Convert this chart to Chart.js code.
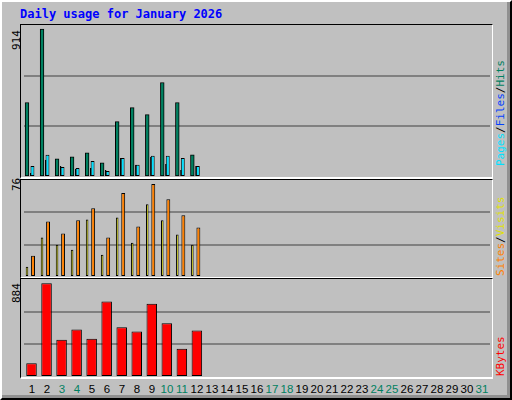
<!DOCTYPE html>
<html><head><meta charset="utf-8">
<script src="https://cdn.jsdelivr.net/npm/chart.js@4"></script>
<style>
html,body{margin:0;padding:0;}
body{width:512px;height:400px;position:relative;background:#c0c0c0;overflow:hidden;font-family:"DejaVu Sans Mono",monospace;}
#frame{position:absolute;left:0;top:0;width:508px;height:396px;border-left:2px solid #fff;border-top:2px solid #fff;border-right:2px solid #000;border-bottom:2px solid #000;box-shadow:inset -3px -3px 0 #909090;}
.panel{position:absolute;left:20px;width:471px;border-left:1px solid #000;border-top:1px solid #000;border-right:1px solid #fff;border-bottom:2px solid #fff;}
.panel canvas{position:absolute;left:3px;top:0;}
#title{position:absolute;left:20px;top:7px;color:#0000ff;font-weight:bold;font-size:12px;}
.max{position:absolute;font-size:11px;color:#000;transform-origin:left top;transform:rotate(-90deg);font-family:"DejaVu Sans Mono",monospace;}
.leg{position:absolute;font-size:11px;white-space:nowrap;transform-origin:left top;transform:rotate(-90deg);font-family:"DejaVu Sans Mono",monospace;}
.day{position:absolute;top:383px;width:16px;text-align:center;font-family:"Liberation Sans",sans-serif;font-size:11.5px;}
</style></head><body>
<div id="frame"></div>
<div id="title">Daily usage for January 2026</div>
<div class="panel" style="top:24px;height:152px"><canvas id="c1" width="466" height="152"></canvas></div>
<div class="panel" style="top:179px;height:97px"><canvas id="c2" width="466" height="97"></canvas></div>
<div class="panel" style="top:278px;height:98px"><canvas id="c3" width="466" height="98"></canvas></div>
<div class="max" style="left:10px;top:50px">914</div>
<div class="max" style="left:10px;top:191px">76</div>
<div class="max" style="left:10px;top:303px">884</div>
<div class="leg" style="left:494px;top:166px"><span style="color:#00e0ff">Pages</span><span style="color:#000">/</span><span style="color:#0040ff">Files</span><span style="color:#000">/</span><span style="color:#008060">Hits</span></div>
<div class="leg" style="left:494px;top:276px"><span style="color:#ff8000">Sites</span><span style="color:#000">/</span><span style="color:#e0e000">Visits</span></div>
<div class="leg" style="left:494px;top:376px"><span style="color:#ff0000">KBytes</span></div>
<div id="days"></div>
<script>
const days = Array.from({length:31},(_,i)=>String(i+1));
const weekend = ["3","4","10","11","17","18","24","25","31"];
const hits   = [460,914,112,124,149,87,342,429,385,584,460,137];
const files  = [68,137,62,56,99,37,118,75,131,131,118,68];
const pages  = [25,106,68,50,56,44,118,75,124,81,44,68];
const visits = [17.3,45.4,35.5,46.3,56.2,32.2,68.6,41.3,76,63.6,50.4,40.5];
const sites  = [8.3,32.2,26.4,22.3,47.1,18.2,48.7,28.1,59.5,46.3,34.7,26.4];
const kbytes = [129,884,352,448,361,710,468,429,690,507,265,439];
const empty = [];

const dd=document.getElementById('days');
days.forEach((d,i)=>{const s=document.createElement('div');s.className='day';s.textContent=d;
 s.style.left=(24+15*i)+'px';s.style.color=weekend.includes(d)?'#008060':'#000';dd.appendChild(s);});

function make(id,max,datasets){
 new Chart(document.getElementById(id),{type:'bar',data:{labels:days,datasets},
  options:{responsive:false,animation:false,layout:{padding:0},
   plugins:{legend:{display:false},tooltip:{enabled:false}},
   scales:{x:{display:false,offset:true},xa:{display:false,offset:true},xb:{display:false,offset:true},
    y:{min:0,max:max,afterBuildTicks:s=>{s.ticks=[0,max/3,2*max/3,max].map(v=>({value:v}));},
     ticks:{display:false},border:{display:false},
     grid:{drawTicks:false,color:c=>(c.index===1||c.index===2)?'#808080':'rgba(0,0,0,0)',lineWidth:2}}}}});
}
const bw={borderColor:'#000',borderWidth:1,borderSkipped:false};
make('c1',939,[
 {...bw,xAxisID:'xa',data:hits,backgroundColor:'#008060',categoryPercentage:0.8,barPercentage:1.25,order:5},
 {...bw,xAxisID:'xa',data:empty,backgroundColor:'#000',categoryPercentage:0.8,order:6},
 {...bw,xAxisID:'xb',data:pages,backgroundColor:'#0040ff',categoryPercentage:0.5,barPercentage:0.8,order:1},
 {...bw,xAxisID:'xb',data:files,backgroundColor:'#00e0ff',categoryPercentage:0.5,barPercentage:2.1,order:2}]);
make('c2',79.3,[
 {...bw,xAxisID:'xa',data:sites,backgroundColor:'#ffff00',categoryPercentage:0.8,barPercentage:0.85,order:5},
 {...bw,xAxisID:'xa',data:empty,backgroundColor:'#000',categoryPercentage:0.8,order:6},
 {...bw,xAxisID:'xb',data:empty,backgroundColor:'#000',categoryPercentage:0.8,order:1},
 {...bw,xAxisID:'xb',data:visits,backgroundColor:'#ff8000',categoryPercentage:0.8,barPercentage:1.3,order:2}]);
make('c3',923,[
 {...bw,data:kbytes,backgroundColor:'#ff0000',barPercentage:0.7,categoryPercentage:1,order:1}]);
</script></body></html>
